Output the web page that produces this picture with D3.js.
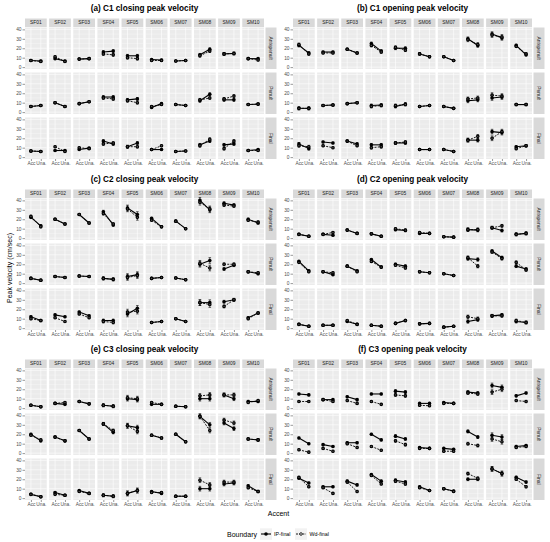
<!DOCTYPE html>
<html>
<head>
<script src="https://d3js.org/d3.v7.min.js"></script>
<style>
  body { margin: 0; background: #fff; }
  text { font-family: "Liberation Sans", Arial, sans-serif; }
</style>
</head>
<body>
<svg id="chart" width="550" height="542"></svg>
<script>
// categories
var speakers = ["SF01", "SF02", "SF03", "SF04", "SF05", "SM06", "SM07", "SM08", "SM09", "SM10"];
var positions = ["Antepenult", "Penult", "Final"];
var accents = ["Acc", "Una."];
var boundaries = ["IP-final", "Wd-final"];
var yTicks = [0, 10, 20, 30, 40];
var yMinor = [5, 15, 25, 35];
var panelTitles = ["(a) C1 closing peak velocity", "(b) C1 opening peak velocity",
  "(c) C2 closing peak velocity", "(d) C2 opening peak velocity",
  "(e) C3 closing peak velocity", "(f) C3 opening peak velocity"];

// values: [position][speaker] = [Acc, Una.]
var c1ClosingIP = [
  [[7,6.5],[9,6.5],[8.5,9],[16,17],[12,12],[8,7.5],[6.5,7],[13,19],[14,14.5],[9,9]],
  [[6,7],[10,6],[9,11],[16,16],[13,14],[5,9],[8,7],[12,19],[13,13],[8,8.5]],
  [[6.5,6],[7,7],[8,9.5],[17,14],[11,15],[8,8],[6,6.5],[13,17],[13,14],[7,8]]
];
var c1ClosingWd = [
  [[7,6],[11,6],[8.5,9],[14,13],[10,9],[7,7],[6.5,7],[12,17],[14,14.5],[9,7.5]],
  [[6,7],[10,6],[9,11],[15,14],[12,10],[6,8],[8,7],[13,15],[14,17],[8,8.5]],
  [[6.5,6],[11,6],[10,9],[14,15],[11,11],[8,12],[6,6.5],[12,19],[9,17],[7,7]]
];
var c1OpeningIP = [
  [[23,15],[16,16],[19,15],[25,17],[20,20],[14,11],[11,7],[30,23],[35,31],[23,13]],
  [[4,4],[7,7.5],[9,10],[7,7.5],[6,8.5],[6,7],[6,4],[12,13],[15,16],[8,8]],
  [[14,9],[16,15],[17,14],[13,13],[15,15],[8,8],[8,6],[18,18],[27,26],[11,12]]
];
var c1OpeningWd = [
  [[24,14],[15,15],[19,15],[23,16],[21,18],[14,11],[11,7],[29,24],[34,32],[22,14]],
  [[4,4],[7,7.5],[9,10],[6,7],[7,8],[6,7],[6,4],[14,15],[18,17],[8,8]],
  [[12,11],[12,10],[17,12],[10,11],[15,16],[8,8],[8,6],[18,22],[20,27],[9,12]]
];
var c2ClosingIP = [
  [[22,13],[20,15],[25,16],[28,14],[32,25],[21,12],[18,10],[40,30],[37,35],[20,16]],
  [[5,3],[7,6],[7.5,7],[5,4],[7,9],[5,6],[5.5,3.5],[20,24],[15,19],[12,10]],
  [[12,8],[14,12],[17,13],[8,8],[15,21],[6,7],[10,7],[27,27],[28,30],[11,16]]
];
var c2ClosingWd = [
  [[23,12],[20,15],[25,16],[26,15],[31,22],[19,12],[18,10],[38,31],[35,34],[19,17]],
  [[5,3],[7,6],[7.5,7],[5,4],[6,8],[5,6],[5.5,3.5],[21,16],[20,20],[12,11]],
  [[10,8],[11,7],[15,11],[7,6],[17,18],[6,7],[10,7],[27,25],[23,30],[10,16]]
];
var c2OpeningIP = [
  [[4,2],[4,3],[8.5,5],[4.5,2],[9,8],[5,5],[1.5,1],[9,8.5],[11,8],[4,5]],
  [[23,13],[12,9],[18,13],[25,17],[20,18],[12,11],[10,8],[26,25],[34,27],[18,15]],
  [[4,2],[3,3],[7,4],[3,2],[5,8],[4.5,5],[1,2],[7,9],[13,14],[7,6]]
];
var c2OpeningWd = [
  [[4,2],[4,6],[8.5,5],[4.5,2],[10,8.5],[6,5],[1.5,1],[9,9],[11,13],[4,5]],
  [[22,12],[12,11],[18,12],[23,17],[19,16],[12,11],[10,8],[27,18],[33,26],[22,14]],
  [[4,2],[3,3],[8,4],[3,2],[5,8],[4.5,5],[1,2],[12,10],[13,13],[8,6]]
];
var c3ClosingIP = [
  [[3,1.5],[5,4],[7,4.5],[3,2],[10,9],[4,4],[2,1.5],[10,10],[14,10],[7,7]],
  [[20,13],[17,13],[24,15],[31,22],[29,27],[19,16],[20,12],[39,30],[32,26],[15,14]],
  [[4,1.5],[6,3],[8,5],[3,2],[5,8],[7,5],[2,2],[10,10],[15,16],[13,7]]
];
var c3ClosingWd = [
  [[3,1.5],[5,6],[7,4.5],[3,2],[11,10],[6,4],[2,1.5],[13,14],[14,14],[6,8]],
  [[19,14],[17,13],[24,15],[31,24],[29,23],[19,16],[20,12],[39,24],[35,32],[15,14]],
  [[4,1.5],[4,3],[7,5],[3,2],[5,8],[6,6],[2,2],[19,14],[17,17],[11,7]]
];
var c3OpeningIP = [
  [[15,14],[9,9],[12,9],[15,15],[18,17],[5,5],[6,5],[17,16],[24,22],[13,16]],
  [[16,10],[9,7],[11,11],[20,14],[18,15],[6,5],[5,4],[23,17],[19,17],[7,8]],
  [[21,16],[12,12],[18,14],[25,18],[19,17],[12,8],[10,7.5],[20,20],[31,26],[22,17]]
];
var c3OpeningWd = [
  [[7,7],[9,7],[8,5],[7,4],[14,13],[3,2.5],[5,5],[16,15],[17,20],[8,7]],
  [[3.5,1],[5,2],[10,6],[7,3],[13,9],[5,5],[2,2],[10,8],[15,12],[6,7]],
  [[22,12],[11,5],[17,7],[24,15],[18,15],[11,8],[10,7],[26,21],[31,26],[20,12]]
];
// error bar half-lengths per speaker
var c1ClosingSE = [1, 1, 0.8, 1.5, 1.5, 1, 0.6, 1.5, 1.5, 1];
var c1OpeningSE = [1.5, 1, 1, 1.5, 1.5, 1, 0.8, 2, 2.5, 1.2];
var c2ClosingSE = [1.2, 1, 1, 1.5, 3, 1, 0.8, 3, 1.5, 1.2];
var c2OpeningSE = [1, 1, 1, 1, 1.2, 1, 0.6, 1.8, 1.5, 1.5];
var c3ClosingSE = [1, 1, 1, 1.5, 2.5, 1, 1, 2.5, 2, 1.2];
var c3OpeningSE = [1, 1, 1.2, 1, 1.5, 1, 1, 1.5, 2.5, 1.2];

var panels = [
  {ip: c1ClosingIP, wd: c1ClosingWd, se: c1ClosingSE},
  {ip: c1OpeningIP, wd: c1OpeningWd, se: c1OpeningSE},
  {ip: c2ClosingIP, wd: c2ClosingWd, se: c2ClosingSE},
  {ip: c2OpeningIP, wd: c2OpeningWd, se: c2OpeningSE},
  {ip: c3ClosingIP, wd: c3ClosingWd, se: c3ClosingSE},
  {ip: c3OpeningIP, wd: c3OpeningWd, se: c3OpeningSE}
];

var svg = d3.select("#chart");

// layout
var colX = [25, 293], panelY = [0, 171, 341];
var plotW = 239, cellGap = 2.4;
var cellW = (plotW - 9 * cellGap) / 10;
var rowTop0 = 27.5, rowH = 41.5, rowGap = 3.5;
var stripTop = 18.5, stripH = 8.5;

var x = d3.scalePoint().domain(accents).range([0, cellW]).padding(0.6);

var line = d3.line();

panels.forEach(function(p, pi) {
  var ox = colX[pi % 2], oy = panelY[Math.floor(pi / 2)];
  var g = svg.append("g");

  g.append("text")
    .attr("x", ox + plotW / 2).attr("y", oy + 11)
    .attr("text-anchor", "middle")
    .style("font-size", "8.2px").style("font-weight", "bold")
    .text(panelTitles[pi]);

  speakers.forEach(function(sp, j) {
    var cx = ox + j * (cellW + cellGap);
    g.append("rect").attr("x", cx).attr("y", oy + stripTop)
      .attr("width", cellW).attr("height", stripH).attr("fill", "#D9D9D9");
    g.append("text").attr("x", cx + cellW / 2).attr("y", oy + stripTop + stripH / 2 + 1.7)
      .attr("text-anchor", "middle").attr("fill", "#1A1A1A")
      .style("font-size", "4.9px").text(sp);
  });

  positions.forEach(function(pos, r) {
    var top = oy + rowTop0 + r * (rowH + rowGap);
    var y = d3.scaleLinear().domain([-2, 42]).range([top + rowH, top]);

    // right strip
    var sx = ox + plotW + 1.5;
    g.append("rect").attr("x", sx).attr("y", top).attr("width", 11).attr("height", rowH)
      .attr("fill", "#D9D9D9");
    g.append("text").attr("transform", "translate(" + (sx + 5.5 - 1.7) + "," + (top + rowH / 2) + ") rotate(90)")
      .attr("text-anchor", "middle").attr("fill", "#1A1A1A")
      .style("font-size", "4.9px").text(pos);

    // y axis
    var ya = g.append("g").attr("transform", "translate(" + ox + ",0)")
      .call(d3.axisLeft(y).tickValues(yTicks).tickSize(2.5).tickPadding(1));
    ya.select(".domain").remove();
    ya.selectAll("line").attr("stroke", "#333").attr("stroke-width", 0.5);
    ya.selectAll("text").attr("fill", "#4D4D4D").style("font-size", "4.8px")
      .style("font-family", "Liberation Sans, Arial, sans-serif");

    speakers.forEach(function(sp, j) {
      var cx = ox + j * (cellW + cellGap);
      var cg = g.append("g").attr("transform", "translate(" + cx + ",0)");
      cg.append("rect").attr("x", 0).attr("y", top).attr("width", cellW).attr("height", rowH)
        .attr("fill", "#EBEBEB");
      cg.selectAll(".minor").data(yMinor).enter().append("line")
        .attr("x1", 0).attr("x2", cellW).attr("y1", y).attr("y2", y)
        .attr("stroke", "#fff").attr("stroke-width", 0.3);
      cg.selectAll(".major").data(yTicks).enter().append("line")
        .attr("x1", 0).attr("x2", cellW).attr("y1", y).attr("y2", y)
        .attr("stroke", "#fff").attr("stroke-width", 0.6);
      cg.selectAll(".vx").data(accents).enter().append("line")
        .attr("x1", x).attr("x2", x).attr("y1", top).attr("y2", top + rowH)
        .attr("stroke", "#fff").attr("stroke-width", 0.6);

      var se = p.se[j];
      [p.ip, p.wd].forEach(function(series, si) {
        var vals = series[r][j];
        var pts = accents.map(function(a, k) { return [x(a), y(vals[k])]; });
        // error bars
        accents.forEach(function(a, k) {
          var xx = x(a), y1 = y(vals[k] + se), y2 = y(vals[k] - se);
          cg.append("path")
            .attr("d", "M" + (xx - 1.3) + "," + y1 + "H" + (xx + 1.3) + "M" + xx + "," + y1 + "V" + y2 + "M" + (xx - 1.3) + "," + y2 + "H" + (xx + 1.3))
            .attr("stroke", "#000").attr("stroke-width", 0.6).attr("fill", "none");
        });
        cg.append("path").attr("d", line(pts))
          .attr("stroke", "#000").attr("fill", "none")
          .attr("stroke-width", si === 0 ? 1.1 : 0.9)
          .attr("stroke-dasharray", si === 0 ? null : "2,1.2");
        cg.selectAll(".pt" + si).data(pts).enter().append("circle")
          .attr("cx", function(d) { return d[0]; }).attr("cy", function(d) { return d[1]; })
          .attr("r", si === 0 ? 1.8 : 1.25)
          .attr("fill", si === 0 ? "#000" : "#555")
          .attr("stroke", "#000").attr("stroke-width", si === 0 ? 0 : 1.1);
      });

      if (r === 2) {
        var xa = cg.append("g").attr("transform", "translate(0," + (top + rowH) + ")")
          .call(d3.axisBottom(x).tickSize(2).tickPadding(1));
        xa.select(".domain").remove();
        xa.selectAll("line").attr("stroke", "#333").attr("stroke-width", 0.5);
        xa.selectAll("text").attr("fill", "#4D4D4D").style("font-size", "4.8px")
          .style("font-family", "Liberation Sans, Arial, sans-serif");
      }
    });
  });
});

// axis titles
svg.append("text").attr("transform", "translate(11.5,268) rotate(-90)")
  .attr("text-anchor", "middle").style("font-size", "7px").text("Peak velocity (cm/sec)");
svg.append("text").attr("x", 278.5).attr("y", 515.5)
  .attr("text-anchor", "middle").style("font-size", "7px").text("Accent");

// legend
var leg = svg.append("g");
leg.append("text").attr("x", 227).attr("y", 536.5).style("font-size", "7px").text("Boundary");
var keyX = [260, 295], labX = [274, 309.5];
boundaries.forEach(function(b, i) {
  leg.append("rect").attr("x", keyX[i]).attr("y", 528.3).attr("width", 12).attr("height", 11.5)
    .attr("fill", "#F2F2F2");
  leg.append("line").attr("x1", keyX[i] + 1).attr("x2", keyX[i] + 11)
    .attr("y1", 534).attr("y2", 534).attr("stroke", "#000")
    .attr("stroke-width", i === 0 ? 1.1 : 0.9).attr("stroke-dasharray", i === 0 ? null : "2,1.2");
  leg.append("circle").attr("cx", keyX[i] + 6).attr("cy", 534).attr("r", i === 0 ? 1.8 : 1.3)
    .attr("fill", i === 0 ? "#000" : "#F2F2F2").attr("stroke", "#000")
    .attr("stroke-width", i === 0 ? 0 : 0.8);
  leg.append("text").attr("x", labX[i]).attr("y", 535.8).style("font-size", "5.3px").text(b);
});
</script>
</body>
</html>
